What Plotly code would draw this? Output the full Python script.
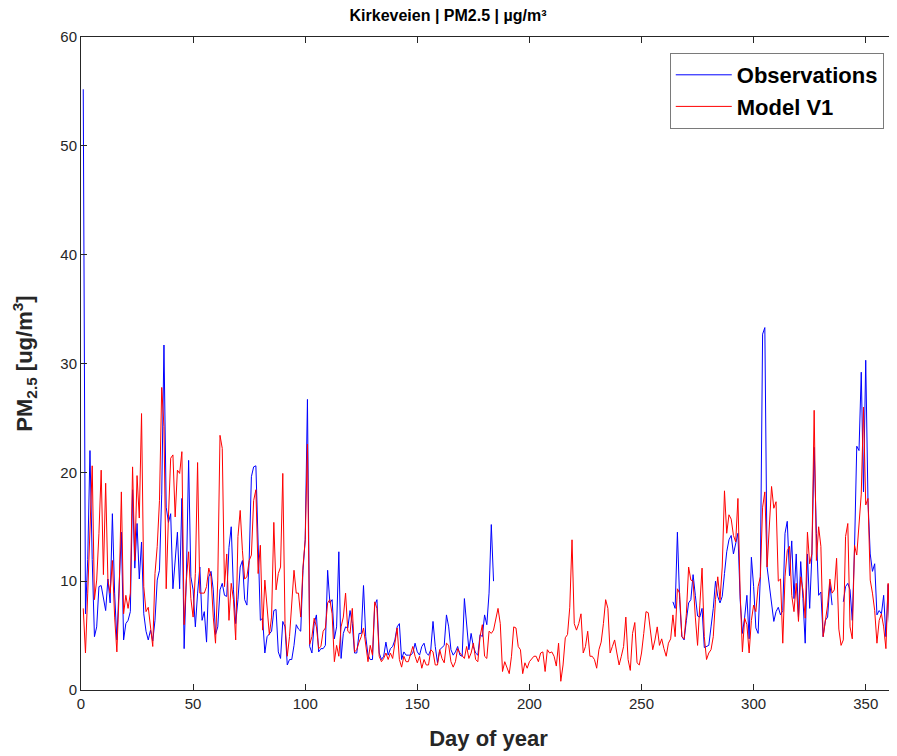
import plotly.graph_objects as go

days = list(range(1, 364))

observations = [
    55.2, 7.0, 12.0, 22.0, 12.0, 4.9, 5.8, 9.5, 9.6, 8.3,
    7.3, 10.2, 8.0, 16.2, 8.9, 4.6, 9.0, 14.5, 4.6, 6.1,
    6.4, 7.2, 18.4, 11.2, 15.3, 10.2, 13.6, 7.0, 5.4, 4.6,
    5.5, 4.5, 6.4, 10.1, 11.0, 18.0, 31.7, 16.8, 15.4, 16.2,
    9.3, 11.9, 14.5, 9.3, 17.6, 3.8, 10.4, 21.1, 10.4, 9.2,
    5.8, 8.9, 11.3, 6.4, 7.2, 4.4, 10.4, 10.9, 9.2, 5.1,
    5.8, 9.2, 9.8, 8.7, 8.6, 13.1, 15.0, 9.2, 6.1, 8.3,
    11.3, 11.9, 8.3, 7.8, 11.9, 19.6, 20.5, 20.6, 13.1, 6.4,
    6.6, 3.4, 4.9, 5.2, 5.4, 7.3, 7.4, 3.5, 2.9, 6.3,
    5.8, 2.3, 2.8, 2.8, 4.1, 6.0, 5.6, 5.4, 11.0, 13.8,
    26.7, 4.0, 3.4, 6.1, 6.9, 3.5, 3.8, 3.8, 4.1, 11.0,
    8.0, 8.3, 4.7, 5.8, 12.7, 2.9, 5.2, 5.8, 5.7, 7.3,
    6.1, 3.4, 3.4, 5.2, 5.2, 9.6, 4.9, 3.2, 2.8, 2.8,
    7.8, 8.3, 3.4, 2.8, 3.1, 4.4, 3.2, 3.8, 4.0, 4.6,
    5.8, 6.1, 2.8, 3.5, 3.2, 3.2, 3.2, 3.4, 4.3, 3.5,
    3.2, 4.0, 4.3, 3.4, 3.2, 3.7, 6.3, 4.0, 2.5, 3.7,
    3.9, 4.1, 6.9, 5.8, 3.7, 3.2, 3.5, 4.0, 3.2, 3.1,
    8.4, 6.1, 3.7, 5.2, 4.0, 3.4, 3.2, 5.1, 4.9, 6.9,
    6.0, 8.9, 15.2, 10.0,
] + [None] * 79 + [
    8.1, 7.5, 14.5, 8.3, 4.9, 4.6, 6.4, 8.0, 8.3, 10.6,
    8.7, 6.8, 6.7, 7.5, 3.9, 4.0, 4.1, 5.8, 7.5, 10.0,
    8.6, 8.0, 8.6, 10.7, 12.7, 13.8, 14.2, 12.5, 13.6, 14.4,
    8.3, 5.2, 6.7, 8.7, 4.7, 12.2, 9.5, 5.7, 5.2, 10.4,
    32.7, 33.3, 11.3, 9.5, 7.6, 6.3, 7.2, 7.6, 6.9, 7.3,
    14.4, 15.5, 10.5, 13.7, 8.4, 12.5, 6.7, 11.8, 8.4, 4.3,
    12.5, 7.5, 12.5, 22.3, 14.4, 8.7, 9.0, 4.9, 6.4, 6.7,
    9.8, 7.8, None, None, None, None, 8.1, 9.5, 9.8, 9.2,
    6.4, 13.0, 22.4, 22.0, 29.2, 18.2, 30.3, 17.4, 12.5, 10.9,
    11.6, 6.9, 7.3, 7.0, 8.7, 4.9, 9.7, 3.8, 10.1, 10.0,
]

model_v1 = [
    7.5, 3.4, 8.9, 14.0, 20.6, 8.3, 10.1, 14.4, 20.2, 10.6,
    19.0, 10.1, 8.9, 11.9, 6.7, 3.5, 8.9, 18.2, 7.0, 8.7,
    7.5, 8.9, 20.5, 11.9, 19.7, 15.8, 25.4, 9.5, 7.2, 7.6,
    5.8, 4.0, 10.7, 13.2, 17.4, 27.8, 24.2, 9.3, 15.9, 21.3,
    21.6, 15.9, 20.2, 19.9, 21.9, 6.0, 10.1, 12.7, 8.4, 6.7,
    10.7, 20.9, 8.9, 8.9, 8.9, 9.5, 11.2, 10.4, 6.7, 4.3,
    10.1, 23.4, 22.2, 9.5, 12.5, 6.4, 9.8, 8.3, 4.6, 14.1,
    16.5, 12.8, 10.2, 10.4, 11.9, 12.4, 17.4, 18.4, 10.7, 13.3,
    5.5, 10.1, 7.6, 5.1, 6.7, 15.4, 9.2, 10.7, 11.3, 19.9,
    6.1, 3.1, 4.9, 7.6, 11.0, 8.9, 8.9, 6.7, 11.3, 13.8,
    22.6, 4.2, 4.9, 6.6, 5.8, 3.8, 4.0, 5.4, 5.7, 8.0,
    8.3, 7.0, 2.6, 4.1, 3.1, 5.8, 6.7, 8.9, 5.4, 5.2,
    7.5, 3.5, 3.7, 4.4, 4.9, 5.7, 4.0, 2.6, 4.1, 3.2,
    8.1, 7.5, 3.1, 2.6, 2.9, 3.4, 2.8, 3.4, 2.9, 4.1,
    5.7, 2.8, 2.1, 3.1, 2.6, 2.6, 3.2, 4.0, 3.1, 2.5,
    3.1, 2.0, 2.8, 2.3, 2.3, 3.7, 3.5, 2.3, 2.3, 3.7,
    2.9, 2.5, 4.3, 4.1, 2.6, 2.1, 2.6, 3.8, 3.4, 3.1,
    2.9, 4.0, 2.9, 3.4, 4.3, 2.8, 2.6, 4.9, 6.0, 3.1,
    2.9, 5.4, 5.2, 5.5, 6.6, 7.5, 6.1, 1.7, 2.6, 2.0,
    1.5, 3.1, 5.8, 5.7, 4.0, 3.7, 1.5, 2.5, 2.0, 2.6,
    2.9, 3.1, 3.1, 2.6, 3.4, 3.5, 1.7, 3.7, 3.4, 3.5,
    3.1, 2.2, 4.3, 0.8, 2.3, 4.8, 5.1, 7.6, 13.8, 6.1,
    5.5, 6.1, 7.0, 3.4, 4.0, 5.4, 3.1, 3.1, 2.8, 2.0,
    3.7, 4.4, 6.1, 8.3, 7.5, 3.4, 4.0, 4.6, 3.4, 2.3,
    3.1, 4.0, 6.7, 2.8, 1.8, 5.2, 6.2, 2.5, 2.3, 3.4,
    5.2, 7.2, 7.1, 5.5, 3.7, 4.6, 5.8, 4.1, 4.7, 3.8,
    3.1, 4.3, 4.7, 6.9, 4.9, 9.3, 8.9, 4.9, 4.7, 7.0,
    11.3, 10.1, 10.0, 6.7, 4.1, 7.8, 11.2, 4.9, 2.8, 3.4,
    3.7, 4.9, 8.3, 10.4, 8.3, 11.3, 18.3, 14.4, 16.1, 15.7,
    14.2, 13.6, 17.6, 8.9, 3.5, 6.6, 6.0, 3.4, 6.4, 7.8,
    7.2, 9.5, 10.4, 16.8, 18.2, 11.3, 15.0, 18.7, 16.7, 17.3,
    10.0, 10.2, 4.3, 10.4, 12.8, 13.2, 8.7, 7.2, 9.8, 6.3,
    10.4, 9.2, 6.6, 14.5, 11.6, 12.5, 25.7, 11.9, 15.0, 13.2,
    4.9, 6.4, 7.8, 10.2, 8.9, 9.2, 12.1, 5.6, 4.1, 4.6,
    14.1, 15.3, 5.8, 4.7, 13.3, 12.4, 15.0, 18.0, 26.0, 17.0,
    17.6, 10.1, 8.9, 7.3, 4.3, 6.4, 7.0, 5.8, 3.8, 9.8,
    3.7, 10.0, 8.7,
]

x_ticks = [0, 50, 100, 150, 200, 250, 300, 350]
y_ticks = [0, 10, 20, 30, 40, 50, 60]

FONT = "Liberation Sans, Arial, Helvetica, sans-serif"
AXC = "#262626"

fig = go.Figure()
fig.add_trace(go.Scatter(x=days, y=observations, mode="lines", name="<b>Observations</b>",
                         line=dict(color="#0000FF", width=1), connectgaps=False))
fig.add_trace(go.Scatter(x=days, y=model_v1, mode="lines", name="<b>Model V1</b>",
                         line=dict(color="#FF0000", width=1), connectgaps=False))

axis_common = dict(showline=True, linecolor=AXC, linewidth=1, mirror="ticks",
                   ticks="inside", ticklen=6, tickcolor=AXC, tickwidth=1,
                   showgrid=False, zeroline=False, automargin=False,
                   tickfont=dict(family=FONT, size=15, color=AXC))

W, H = 889, 748

fig.update_layout(
    width=W, height=H,
    margin=dict(l=73, r=1, t=29, b=66),
    paper_bgcolor="white", plot_bgcolor="white",
    font=dict(family=FONT, color="black"),
    title=dict(text="<b>Kirkeveien | PM2.5 | µg/m³</b>", x=440 / W, xref="container",
               y=1 - 7 / H, yref="container", yanchor="middle", xanchor="center",
               font=dict(family=FONT, size=16, color="black")),
    xaxis=dict(range=[0, 363.5], tickvals=x_ticks,
               title=dict(text="<b>Day of year</b>", font=dict(family=FONT, size=22, color=AXC), standoff=19),
               **axis_common),
    yaxis=dict(range=[0, 60], tickvals=y_ticks,
               title=dict(text="<b>PM<sub>2.5</sub> [ug/m<sup>3</sup>]</b>", font=dict(family=FONT, size=22, color=AXC), standoff=21),
               **axis_common),
    legend=dict(x=0.985, y=0.9755, xanchor="right", yanchor="top",
                bgcolor="white", bordercolor="#7a7a7a", borderwidth=1,
                font=dict(family=FONT, size=22, color="black"),
                itemwidth=56, tracegroupgap=0),
    showlegend=True,
)

fig.write_html("out.html")
